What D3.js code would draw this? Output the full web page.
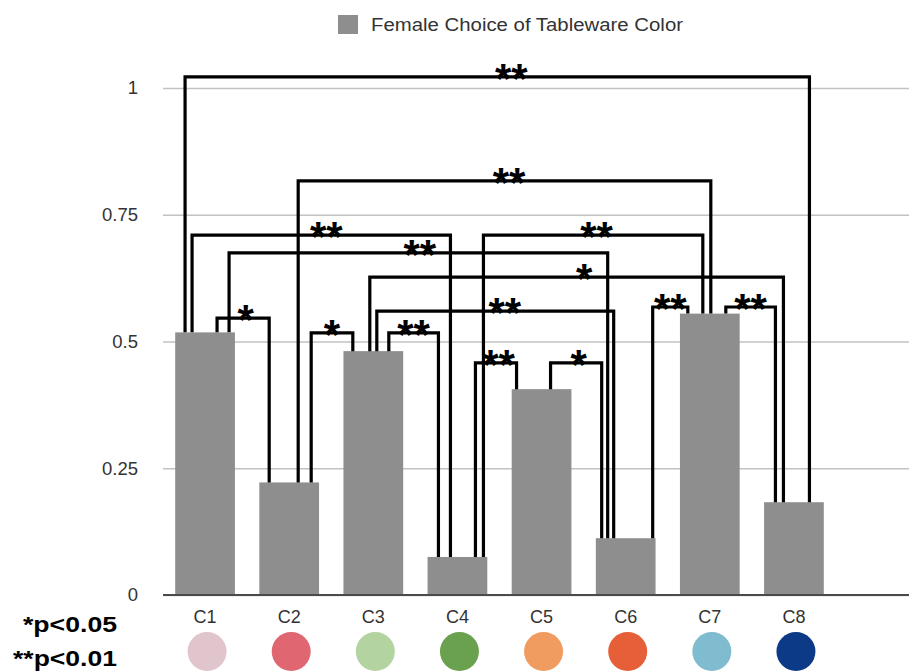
<!DOCTYPE html>
<html>
<head>
<meta charset="utf-8">
<script src="https://cdn.jsdelivr.net/npm/d3@7"></script>
<style>
  html, body { margin: 0; padding: 0; background: #fff; }
  svg { display: block; font-family: "Liberation Sans", Arial, Helvetica, sans-serif; }
</style>
</head>
<body>
<svg id="chart" width="909" height="671"></svg>
<script>
// ---- data ----
const categories = ["C1", "C2", "C3", "C4", "C5", "C6", "C7", "C8"];
const choiceShare = [0.518, 0.222, 0.481, 0.075, 0.406, 0.112, 0.555, 0.183];
const tablewareColors = ["#e0c5cd", "#e06672", "#b3d4a0", "#6aa14e", "#f09b5f", "#e65f39", "#80bcd0", "#0c3a86"];
const yTicks = [0, 0.25, 0.5, 0.75, 1];
const yTickLabels = ["0", "0.25", "0.5", "0.75", "1"];
const seriesName = "Female Choice of Tableware Color";
const pLegend = ["*p<0.05", "**p<0.01"];

// pairwise comparisons: [from, to, significance]
const comparisons = [
  ["C1", "C8", "**"],
  ["C2", "C7", "**"],
  ["C1", "C4", "**"],
  ["C1", "C6", "**"],
  ["C4", "C7", "**"],
  ["C3", "C8", "*"],
  ["C3", "C6", "**"],
  ["C1", "C2", "*"],
  ["C2", "C3", "*"],
  ["C3", "C4", "**"],
  ["C4", "C5", "**"],
  ["C5", "C6", "*"],
  ["C6", "C7", "**"],
  ["C7", "C8", "**"]
];

// ---- bracket layout: bracket height (y units), leg offsets from band centre (px), label nudge (px) ----
const bracketLevel = [1.022, 0.817, 0.710, 0.675, 0.710, 0.627, 0.560, 0.546, 0.517, 0.517, 0.458, 0.458, 0.568, 0.568];
const legOffsets = [
  [-20, 15.5], [9, 1], [-13, -7], [24, -18], [26, -7], [-3.5, -10.5], [3.5, -12],
  [12, -20], [22, -20.5], [15.5, -19], [18, -25], [9, -24], [27, -22], [16, -18.5]
];
const labelNudge = [14, 4.5, 5, 1.5, 3.5, 7.5, 9.5, 2.5, 0, 0, 2.5, 2.5, 0, 0];

// ---- scales ----
const svg = d3.select("#chart");
const plotLeft = 163, plotRight = 909, plotTop = 88, plotBottom = 595;

const x = d3.scaleBand()
  .domain(categories)
  .range([plotLeft, 836])
  .paddingInner(0.29)
  .paddingOuter(0.145);

const y = d3.scaleLinear().domain([0, 1]).range([plotBottom, plotTop]);

const valueOf = c => choiceShare[categories.indexOf(c)];
const centerOf = c => x(c) + x.bandwidth() / 2;

// ---- legend ----
const legend = svg.append("g");
legend.append("rect")
  .attr("x", 338).attr("y", 15).attr("width", 20).attr("height", 19)
  .attr("fill", "#8e8e8e");
legend.append("text")
  .attr("x", 371).attr("y", 31)
  .attr("font-size", 17.5)
  .attr("fill", "#333")
  .attr("textLength", 312)
  .attr("lengthAdjust", "spacingAndGlyphs")
  .text(seriesName);

// ---- y axis with gridlines ----
const yAxis = svg.append("g")
  .attr("transform", `translate(${plotLeft},0)`)
  .call(d3.axisLeft(y)
    .tickValues(yTicks)
    .tickFormat((d, i) => yTickLabels[i])
    .tickSizeInner(-(plotRight - plotLeft))
    .tickSizeOuter(0)
    .tickPadding(25));
yAxis.select(".domain").remove();
yAxis.selectAll(".tick line").attr("stroke", "#c2c2c2").attr("stroke-width", 1.5);
yAxis.selectAll(".tick text")
  .attr("font-size", 18.5)
  .attr("fill", "#333")
  .attr("font-family", "Liberation Sans, Arial, sans-serif");

// ---- bars ----
svg.append("g").selectAll("rect")
  .data(categories)
  .join("rect")
  .attr("x", d => x(d))
  .attr("y", d => y(valueOf(d)))
  .attr("width", x.bandwidth())
  .attr("height", d => y(0) - y(valueOf(d)))
  .attr("fill", "#8e8e8e");

// ---- baseline ----
svg.append("line")
  .attr("x1", plotLeft).attr("x2", plotRight)
  .attr("y1", y(0)).attr("y2", y(0))
  .attr("stroke", "#4a4a4a").attr("stroke-width", 2);

// ---- category axis ----
const xAxis = svg.append("g")
  .attr("transform", `translate(0,${plotBottom})`)
  .call(d3.axisBottom(x).tickSize(0).tickPadding(15));
xAxis.select(".domain").remove();
xAxis.selectAll(".tick text")
  .attr("font-size", 18)
  .attr("fill", "#333")
  .attr("font-family", "Liberation Sans, Arial, sans-serif");

// ---- significance brackets ----
const brackets = comparisons.map((c, i) => {
  const [a, b, sig] = c;
  const x1 = centerOf(a) + legOffsets[i][0];
  const x2 = centerOf(b) + legOffsets[i][1];
  return { x1, x2, top: y(bracketLevel[i]), y1: y(valueOf(a)), y2: y(valueOf(b)), sig, nudge: labelNudge[i] };
});

svg.append("g").selectAll("path")
  .data(brackets)
  .join("path")
  .attr("d", d => `M${d.x1},${d.y1}V${d.top}H${d.x2}V${d.y2}`)
  .attr("fill", "none")
  .attr("stroke", "#000")
  .attr("stroke-width", 3.2)
  .attr("stroke-linejoin", "miter");

svg.append("g").selectAll("text")
  .data(brackets)
  .join("text")
  .attr("x", d => (d.x1 + d.x2) / 2 + d.nudge)
  .attr("y", d => d.top + 16)
  .attr("text-anchor", "middle")
  .attr("font-size", 42)
  .attr("font-weight", "bold")
  .attr("fill", "#000")
  .text(d => d.sig);

// ---- tableware colour swatches ----
svg.append("g").selectAll("circle")
  .data(categories)
  .join("circle")
  .attr("cx", d => centerOf(d) + 2)
  .attr("cy", 651.5)
  .attr("r", 19.5)
  .attr("fill", (d, i) => tablewareColors[i]);

// ---- significance key ----
const keyPos = [{ x: 23, y: 632, w: 94 }, { x: 13, y: 666, w: 104 }];
svg.append("g").selectAll("text")
  .data(pLegend)
  .join("text")
  .attr("x", (d, i) => keyPos[i].x)
  .attr("y", (d, i) => keyPos[i].y)
  .attr("font-size", 22)
  .attr("font-weight", "bold")
  .attr("fill", "#000")
  .attr("textLength", (d, i) => keyPos[i].w)
  .attr("lengthAdjust", "spacingAndGlyphs")
  .text(d => d);
</script>
</body>
</html>
